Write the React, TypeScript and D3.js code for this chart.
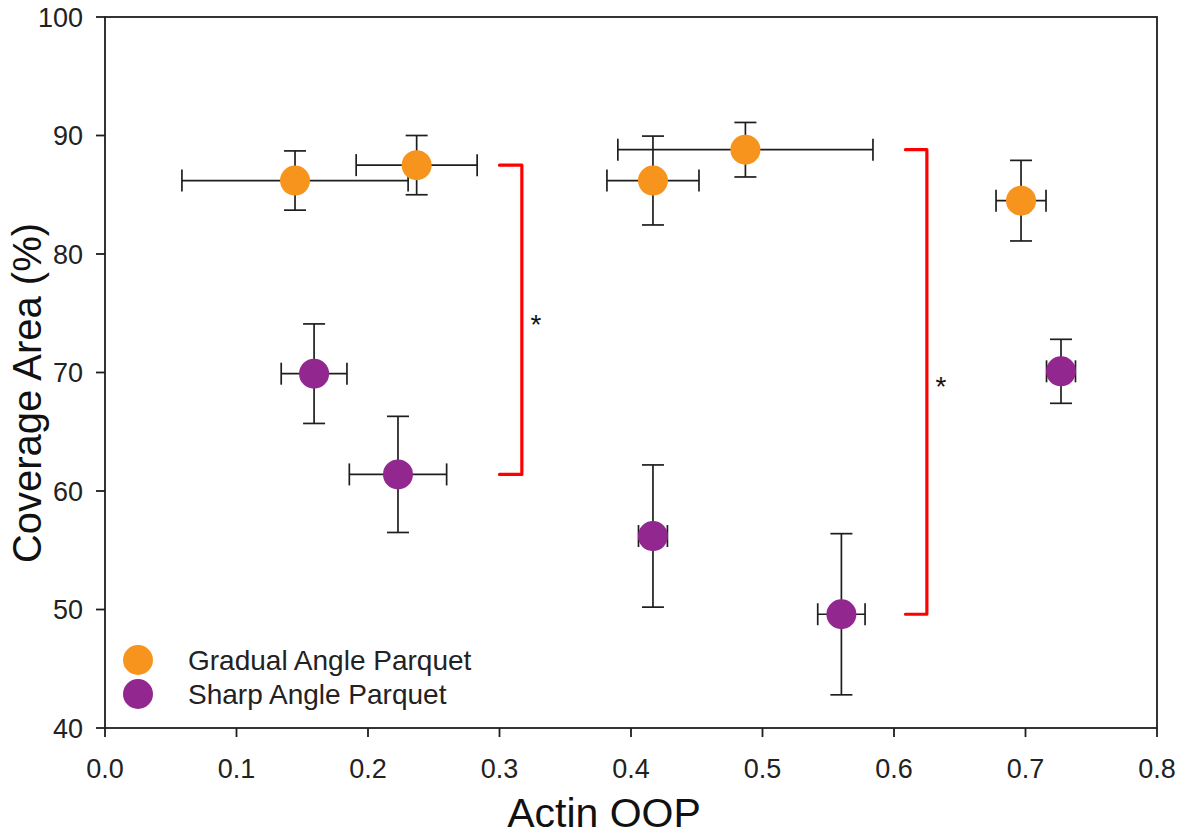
import React from "react";
import * as d3 from "d3";

const xTicks = [0.0, 0.1, 0.2, 0.3, 0.4, 0.5, 0.6, 0.7, 0.8];
const yTicks = [40, 50, 60, 70, 80, 90, 100];

const gradualX = [0.1445, 0.237, 0.4167, 0.487, 0.6966];
const gradualY = [86.2, 87.5, 86.2, 88.8, 84.5];
const gradualXErr = [0.086, 0.046, 0.035, 0.097, 0.019];
const gradualYErr = [2.5, 2.5, 3.75, 2.3, 3.4];

const sharpX = [0.159, 0.2228, 0.4167, 0.56, 0.727];
const sharpY = [69.9, 61.4, 56.2, 49.6, 70.1];
const sharpXErr = [0.025, 0.037, 0.011, 0.018, 0.011];
const sharpYErr = [4.2, 4.9, 6.0, 6.8, 2.7];

const seriesNames = ["Gradual Angle Parquet", "Sharp Angle Parquet"];
const seriesColors = ["#F7941D", "#92278F"];

// significance brackets: [xLeft, xRight], index of compared points
const bracketX = [[0.3, 0.317], [0.6087, 0.625]];
const bracketIdx = [1, 3];

const FONT = "'Liberation Sans', Arial, Helvetica, sans-serif";

export default function App() {
  const W = 1185, H = 838;
  const left = 105, right = 1157, top = 17, bottom = 728;
  const x = d3.scaleLinear().domain([0, 0.8]).range([left, right]);
  const y = d3.scaleLinear().domain([40, 100]).range([bottom, top]);
  const cap = 11;
  const r = 15;
  const ink = "#1e1e1e";

  const renderSeries = (xs: number[], ys: number[], xe: number[], ye: number[], color: string, key: string) =>
    xs.map((xv, i) => {
      const cx = x(xv), cy = y(ys[i]);
      const x0 = x(xv - xe[i]), x1 = x(xv + xe[i]);
      const y0 = y(ys[i] - ye[i]), y1 = y(ys[i] + ye[i]);
      return (
        <g key={key + i}>
          <line x1={x0} x2={x1} y1={cy} y2={cy} stroke={ink} strokeWidth={1.7} />
          <line x1={x0} x2={x0} y1={cy - cap} y2={cy + cap} stroke={ink} strokeWidth={1.7} />
          <line x1={x1} x2={x1} y1={cy - cap} y2={cy + cap} stroke={ink} strokeWidth={1.7} />
          <line x1={cx} x2={cx} y1={y0} y2={y1} stroke={ink} strokeWidth={1.7} />
          <line x1={cx - cap} x2={cx + cap} y1={y0} y2={y0} stroke={ink} strokeWidth={1.7} />
          <line x1={cx - cap} x2={cx + cap} y1={y1} y2={y1} stroke={ink} strokeWidth={1.7} />
          <circle cx={cx} cy={cy} r={r} fill={color} />
        </g>
      );
    });

  return (
    <svg width={W} height={H} style={{ position: "absolute", left: 0, top: 0, background: "#fff" }} fontFamily={FONT}>
      <rect x={0} y={0} width={W} height={H} fill="#fff" />
      {/* frame */}
      <rect x={left} y={top} width={right - left} height={bottom - top} fill="none" stroke={ink} strokeWidth={1.8} />
      {/* y ticks */}
      {yTicks.map((t) => (
        <g key={"y" + t}>
          <line x1={left - 9} x2={left} y1={y(t)} y2={y(t)} stroke={ink} strokeWidth={1.8} />
          <text x={left - 22} y={y(t)} dy="0.36em" textAnchor="end" fontSize={27} fill="#222">
            {t}
          </text>
        </g>
      ))}
      {/* x ticks */}
      {xTicks.map((t) => (
        <g key={"x" + t}>
          <line x1={x(t)} x2={x(t)} y1={bottom} y2={bottom + 9} stroke={ink} strokeWidth={1.8} />
          <text x={x(t)} y={778} textAnchor="middle" fontSize={27} fill="#222">
            {d3.format(".1f")(t)}
          </text>
        </g>
      ))}
      {/* axis titles */}
      <text x={604} y={827} textAnchor="middle" fontSize={41} fill="#111">Actin OOP</text>
      <text transform={`translate(41,393) rotate(-90)`} textAnchor="middle" fontSize={40} fill="#111">
        Coverage Area (%)
      </text>

      {/* brackets */}
      {bracketX.map((bx, k) => {
        const i = bracketIdx[k];
        const yt = y(gradualY[i]), yb = y(sharpY[i]);
        const xl = x(bx[0]), xr = x(bx[1]);
        return (
          <g key={"b" + k}>
            <path d={`M${xl},${yt}H${xr}V${yb}H${xl}`} fill="none" stroke="#FF0000" strokeWidth={3.2} strokeLinejoin="round" strokeLinecap="round" />
            <text x={xr + 14} y={(yt + yb) / 2 + 14} textAnchor="middle" fontSize={28} fill="#111">*</text>
          </g>
        );
      })}

      {renderSeries(gradualX, gradualY, gradualXErr, gradualYErr, seriesColors[0], "g")}
      {renderSeries(sharpX, sharpY, sharpXErr, sharpYErr, seriesColors[1], "s")}

      {/* legend */}
      {seriesNames.map((n, i) => (
        <g key={"l" + i}>
          <circle cx={138} cy={660 + i * 34} r={15} fill={seriesColors[i]} />
          <text x={188} y={660 + i * 34} dy="0.36em" fontSize={28} fill="#222">{n}</text>
        </g>
      ))}
    </svg>
  );
}
